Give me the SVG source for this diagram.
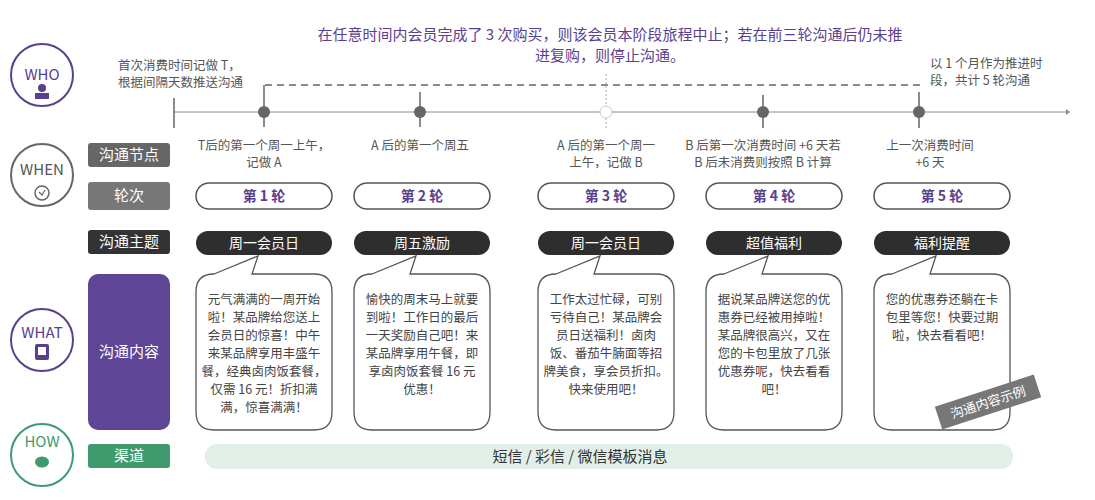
<svg xmlns="http://www.w3.org/2000/svg" width="1095" height="500" viewBox="0 0 1095 500">
<style>
text{font-family:"Noto Sans CJK SC","Noto Sans",sans-serif;}
.lbl{font-size:15px;fill:#fff;text-anchor:middle}
.node{font-size:12.5px;fill:#555;text-anchor:middle}
.note{font-size:12.5px;fill:#555;text-anchor:start}
.pill{fill:#fff;stroke:#555;stroke-width:1.5}
.pt{font-size:14px;fill:#5a3f8f;text-anchor:middle;font-weight:bold}
.dk{fill:#2e2e2e}
.dt{font-size:14px;fill:#fff;text-anchor:middle}
.bub{fill:#fff;stroke:#555;stroke-width:1.3}
.bt{font-size:12.5px;fill:#444;text-anchor:middle}
.dot{fill:#666}
</style>
<rect width="1095" height="500" fill="#fff"/>
<g id="title"><text x="610" y="40" font-size="15" fill="#5a3f8f" text-anchor="middle">在任意时间内会员完成了 3 次购买，则该会员本阶段旅程中止；若在前三轮沟通后仍未推</text><text x="610" y="61" font-size="15" fill="#5a3f8f" text-anchor="middle">进复购，则停止沟通。</text></g>
<g id="who"><circle cx="42" cy="75" r="31" fill="none" stroke="#5a3f8f" stroke-width="2"/><text x="42" y="80" font-size="15" fill="#5a3f8f" text-anchor="middle">WHO</text><circle cx="42" cy="88" r="4" fill="#5a3f8f"/><rect x="35" y="93" width="14" height="6" fill="#5a3f8f"/></g>
<g id="when"><circle cx="42" cy="175" r="31" fill="none" stroke="#666" stroke-width="2"/><text x="42" y="175" font-size="15" fill="#555" text-anchor="middle">WHEN</text><circle cx="42" cy="193" r="7" fill="none" stroke="#666" stroke-width="1.5"/><path d="M39 192 L42 195 L45 190" fill="none" stroke="#666" stroke-width="1.2"/></g>
<g id="what"><circle cx="42" cy="340" r="31" fill="none" stroke="#5a3f8f" stroke-width="2"/><text x="42" y="338" font-size="15" fill="#5a3f8f" text-anchor="middle">WHAT</text><rect x="35" y="344" width="14" height="16" rx="2" fill="#5a3f8f"/><rect x="38" y="347" width="8" height="8" fill="#fff"/></g>
<g id="how"><circle cx="42" cy="455" r="31" fill="none" stroke="#3f9a6e" stroke-width="2"/><text x="42" y="447" font-size="15" fill="#3f9a6e" text-anchor="middle">HOW</text><ellipse cx="42" cy="462" rx="7" ry="5.5" fill="#3f9a6e"/></g>
<g id="row-labels">
<rect x="88" y="143" width="82" height="24" rx="3" fill="#666"/><text class="lbl" x="129" y="160">沟通节点</text>
<rect x="88" y="182" width="82" height="28" rx="3" fill="#777"/><text class="lbl" x="129" y="201">轮次</text>
<rect x="88" y="230" width="82" height="24" rx="3" fill="#333"/><text class="lbl" x="129" y="247">沟通主题</text>
<rect x="88" y="274" width="82" height="156" rx="10" fill="#5e4596"/><text class="lbl" x="129" y="357">沟通内容</text>
<rect x="88" y="444" width="82" height="24" rx="3" fill="#3f9a6e"/><text class="lbl" x="129" y="461">渠道</text>
</g>
<g id="connectors" stroke="#666" fill="none">
<line x1="174" y1="112" x2="1066" y2="112" stroke="#888" stroke-width="1"/>
<path d="M1066 109 L1070 112 L1066 115Z" fill="#888" stroke="none"/>
<line x1="174" y1="98" x2="174" y2="128" stroke-width="1.5"/>
<line x1="265" y1="85" x2="920" y2="85" stroke-dasharray="7,5" stroke-width="1.5"/>
<line x1="264" y1="85" x2="264" y2="127" stroke-width="1.5"/>
<line x1="420" y1="92" x2="420" y2="127" stroke-width="1.5"/>
<line x1="606" y1="74" x2="606" y2="130" stroke="#aaa" stroke-dasharray="2,2"/>
<line x1="763" y1="95" x2="763" y2="128" stroke-width="1.5"/>
<line x1="919" y1="92" x2="919" y2="128" stroke-width="1.5"/>
</g>
<g id="timeline-dots"><circle class="dot" cx="264" cy="112" r="6"/><circle class="dot" cx="420" cy="112" r="6"/><circle cx="606" cy="112" r="6" fill="#fff" stroke="#ccc"/><circle class="dot" cx="763" cy="112" r="6"/><circle class="dot" cx="919" cy="112" r="6"/></g>
<g id="notes"><text class="note" x="118" y="70">首次消费时间记做 T，</text><text class="note" x="118" y="87">根据间隔天数推送沟通</text><text class="note" x="930" y="68">以 1 个月作为推进时</text><text class="note" x="930" y="85">段，共计 5 轮沟通</text></g>
<g id="col1"><text class="node" x="264" y="150">T后的第一个周一上午，</text><text class="node" x="264" y="167">记做 A</text>
<rect class="pill" x="196" y="183" width="136" height="26" rx="13"/><text class="pt" x="264" y="201">第 1 轮</text>
<rect class="dk" x="196" y="231" width="136" height="24" rx="12"/><text class="dt" x="264" y="248">周一会员日</text>
<path class="bub" d="M214 274 L258 256 L252 274 L314 274 Q332 274 332 292 L332 412 Q332 430 314 430 L214 430 Q196 430 196 412 L196 292 Q196 274 214 274Z"/>
<text class="bt" x="264" y="304">元气满满的一周开始</text><text class="bt" x="264" y="322">啦！某品牌给您送上</text><text class="bt" x="264" y="340">会员日的惊喜！中午</text><text class="bt" x="264" y="358">来某品牌享用丰盛午</text><text class="bt" x="264" y="376">餐，经典卤肉饭套餐，</text><text class="bt" x="264" y="394">仅需 16 元！折扣满</text><text class="bt" x="264" y="412">满，惊喜满满！</text></g>
<g id="col2"><text class="node" x="420" y="150">A 后的第一个周五</text>
<rect class="pill" x="354" y="183" width="136" height="26" rx="13"/><text class="pt" x="422" y="201">第 2 轮</text>
<rect class="dk" x="354" y="231" width="136" height="24" rx="12"/><text class="dt" x="422" y="248">周五激励</text>
<path class="bub" d="M372 274 L416 256 L410 274 L472 274 Q490 274 490 292 L490 412 Q490 430 472 430 L372 430 Q354 430 354 412 L354 292 Q354 274 372 274Z"/>
<text class="bt" x="422" y="304">愉快的周末马上就要</text><text class="bt" x="422" y="322">到啦！工作日的最后</text><text class="bt" x="422" y="340">一天奖励自己吧！来</text><text class="bt" x="422" y="358">某品牌享用午餐，即</text><text class="bt" x="422" y="376">享卤肉饭套餐 16 元</text><text class="bt" x="422" y="394">优惠！</text></g>
<g id="col3"><text class="node" x="606" y="150">A 后的第一个周一</text><text class="node" x="606" y="167">上午，记做 B</text>
<rect class="pill" x="538" y="183" width="136" height="26" rx="13"/><text class="pt" x="606" y="201">第 3 轮</text>
<rect class="dk" x="538" y="231" width="136" height="24" rx="12"/><text class="dt" x="606" y="248">周一会员日</text>
<path class="bub" d="M556 274 L600 256 L594 274 L656 274 Q674 274 674 292 L674 412 Q674 430 656 430 L556 430 Q538 430 538 412 L538 292 Q538 274 556 274Z"/>
<text class="bt" x="606" y="304">工作太过忙碌，可别</text><text class="bt" x="606" y="322">亏待自己！某品牌会</text><text class="bt" x="606" y="340">员日送福利！卤肉</text><text class="bt" x="606" y="358">饭、番茄牛腩面等招</text><text class="bt" x="606" y="376">牌美食，享会员折扣。</text><text class="bt" x="606" y="394">快来使用吧！</text></g>
<g id="col4"><text class="node" x="763" y="150">B 后第一次消费时间 +6 天若</text><text class="node" x="763" y="167">B 后未消费则按照 B 计算</text>
<rect class="pill" x="706" y="183" width="136" height="26" rx="13"/><text class="pt" x="774" y="201">第 4 轮</text>
<rect class="dk" x="706" y="231" width="136" height="24" rx="12"/><text class="dt" x="774" y="248">超值福利</text>
<path class="bub" d="M724 274 L768 256 L762 274 L824 274 Q842 274 842 292 L842 412 Q842 430 824 430 L724 430 Q706 430 706 412 L706 292 Q706 274 724 274Z"/>
<text class="bt" x="774" y="304">据说某品牌送您的优</text><text class="bt" x="774" y="322">惠券已经被用掉啦！</text><text class="bt" x="774" y="340">某品牌很高兴，又在</text><text class="bt" x="774" y="358">您的卡包里放了几张</text><text class="bt" x="774" y="376">优惠券呢，快去看看</text><text class="bt" x="774" y="394">吧！</text></g>
<g id="col5"><text class="node" x="930" y="150">上一次消费时间</text><text class="node" x="930" y="167">+6 天</text>
<rect class="pill" x="874" y="183" width="136" height="26" rx="13"/><text class="pt" x="942" y="201">第 5 轮</text>
<rect class="dk" x="874" y="231" width="136" height="24" rx="12"/><text class="dt" x="942" y="248">福利提醒</text>
<path class="bub" d="M892 274 L936 256 L930 274 L992 274 Q1010 274 1010 292 L1010 412 Q1010 430 992 430 L892 430 Q874 430 874 412 L874 292 Q874 274 892 274Z"/>
<text class="bt" x="942" y="304">您的优惠券还躺在卡</text><text class="bt" x="942" y="322">包里等您！快要过期</text><text class="bt" x="942" y="340">啦，快去看看吧！</text></g>
<g id="stamp" transform="rotate(-18 988 402)"><rect x="936" y="390" width="104" height="24" fill="#777"/><text x="988" y="407" font-size="13" fill="#fff" text-anchor="middle">沟通内容示例</text></g>
<g id="channel"><rect x="205" y="444" width="808" height="25" rx="12" fill="#e2efe7"/><text x="580" y="462" font-size="15" fill="#333" text-anchor="middle">短信 / 彩信 / 微信模板消息</text></g>
</svg>
